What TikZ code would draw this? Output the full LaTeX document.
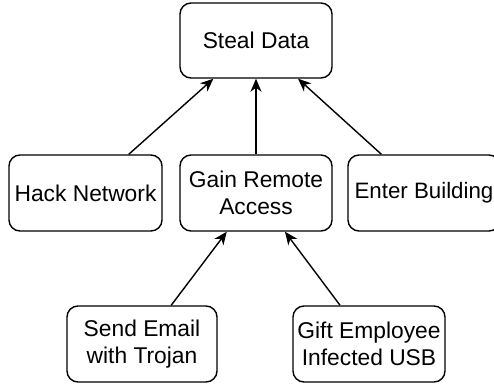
\documentclass[tikz,border=0pt]{standalone}
\usepackage{fontspec}
\setmainfont{Liberation Sans}
\usetikzlibrary{arrows.meta}
\begin{document}
\begin{tikzpicture}[x=1pt,y=-1pt,
  box/.style={draw, line width=1.4pt, rounded corners=11pt, align=center,
    inner sep=0pt, minimum height=75pt,
    font=\fontsize{22.8}{27}\selectfont},
  link/.style={line width=1.4pt, -{Stealth[length=13pt,width=11pt,inset=4pt]}}]
\useasboundingbox (0,0) rectangle (494,383);
\node[box, minimum width=152pt] (steal) at (256,40.5) {Steal Data};
\node[box, minimum width=153pt, minimum height=76pt] (hack) at (85.5,193) {Hack Network};
\node[box, minimum width=152pt, minimum height=76pt] (gain) at (256,193) {Gain Remote\\Access};
\node[box, minimum width=152pt, minimum height=76pt, font=\fontsize{22.3}{27}\selectfont] (enter) at (424,193) {Enter Building};
\node[box, minimum width=150pt, minimum height=76pt] (send) at (142,344) {Send Email\\with Trojan};
\node[box, minimum width=152pt, minimum height=76pt] (gift) at (369,344) {Gift Employee\\Infected USB};
\draw[link] (hack) -- (steal);
\draw[link] (gain) -- (steal);
\draw[link] (enter) -- (steal);
\draw[link] (send) -- (gain);
\draw[link] (gift) -- (gain);
\end{tikzpicture}
\end{document}
